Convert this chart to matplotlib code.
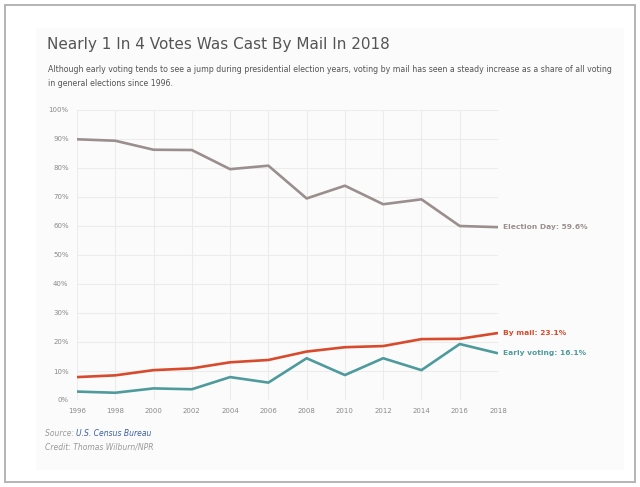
import matplotlib

matplotlib.use("Agg")
import matplotlib.pyplot as plt
from matplotlib.patches import Rectangle
from matplotlib.ticker import FuncFormatter

years = [1996, 1998, 2000, 2002, 2004, 2006, 2008, 2010, 2012, 2014, 2016, 2018]
election_day = [89.9, 89.4, 86.3, 86.2, 79.6, 80.8, 69.5, 73.9, 67.5, 69.2, 60.0, 59.6]
by_mail = [7.9, 8.5, 10.3, 10.9, 13.0, 13.8, 16.7, 18.2, 18.6, 21.0, 21.1, 23.1]
early_voting = [2.9, 2.5, 4.0, 3.7, 7.9, 6.0, 14.4, 8.6, 14.4, 10.3, 19.3, 16.1]

series = [
    ("Election Day", election_day, "#9a8f8d"),
    ("By mail", by_mail, "#d84a2c"),
    ("Early voting", early_voting, "#4f9a9c"),
]

W, H = 640, 487
plt.rcParams["font.family"] = ["DejaVu Sans"]


def fx(px):
    return px / W


def fy(py):
    return 1 - py / H


fig = plt.figure(figsize=(6.4, 4.87), dpi=100)
fig.patch.set_facecolor("white")
# outer frame and the faint card behind the graphic
fig.add_artist(Rectangle((fx(5), fy(482)), fx(630), 477 / H, transform=fig.transFigure,
                         fill=False, edgecolor="#b4b4b4", linewidth=1.4))
fig.add_artist(Rectangle((fx(36), fy(470)), fx(588), 442 / H, transform=fig.transFigure,
                         facecolor="#fbfbfb", edgecolor="none", zorder=-1))

ax = fig.add_axes([fx(77), fy(400), fx(421), 290 / H])
ax.set_facecolor("none")
for name, values, color in series:
    ax.plot(years, values, color=color, linewidth=1.9, solid_capstyle="butt")
    ax.annotate(f"{name}: {values[-1]}%", (years[-1], values[-1]), xytext=(3.5, 0),
                textcoords="offset points", va="center", ha="left", fontsize=5.4,
                fontweight="bold", color=color)

ax.set_xlim(1996, 2018)
ax.set_ylim(0, 100)
ax.set_xticks(years)
ax.set_yticks(range(0, 101, 10))
ax.yaxis.set_major_formatter(FuncFormatter(lambda v, _: f"{v:.0f}%"))
ax.tick_params(length=0, labelsize=5.0, colors="#8a8a8a", pad=6)
ax.grid(True, color="#ececec", linewidth=0.8)
ax.set_axisbelow(True)
for spine in ax.spines.values():
    spine.set_visible(False)

fig.text(fx(47), fy(44), "Nearly 1 In 4 Votes Was Cast By Mail In 2018",
         fontsize=11.0, color="#555555", va="center", ha="left")
fig.text(fx(48), fy(69),
         "Although early voting tends to see a jump during presidential election years, "
         "voting by mail has seen a steady increase as a share of all voting",
         fontsize=5.65, color="#555555", va="center", ha="left")
fig.text(fx(48), fy(84), "in general elections since 1996.",
         fontsize=5.65, color="#555555", va="center", ha="left")

src = fig.text(fx(45), fy(434), "Source: ", fontsize=5.5, color="#999999",
               style="italic", va="center", ha="left")
fig.canvas.draw()
bb = src.get_window_extent()
fig.text(bb.x1 / W, fy(434), "U.S. Census Bureau", fontsize=5.5, color="#3a5fa8",
         style="italic", va="center", ha="left")
fig.text(fx(45), fy(447), "Credit: Thomas Wilburn/NPR", fontsize=5.5,
         color="#999999", style="italic", va="center", ha="left")

fig.savefig("out.png", dpi=100)
